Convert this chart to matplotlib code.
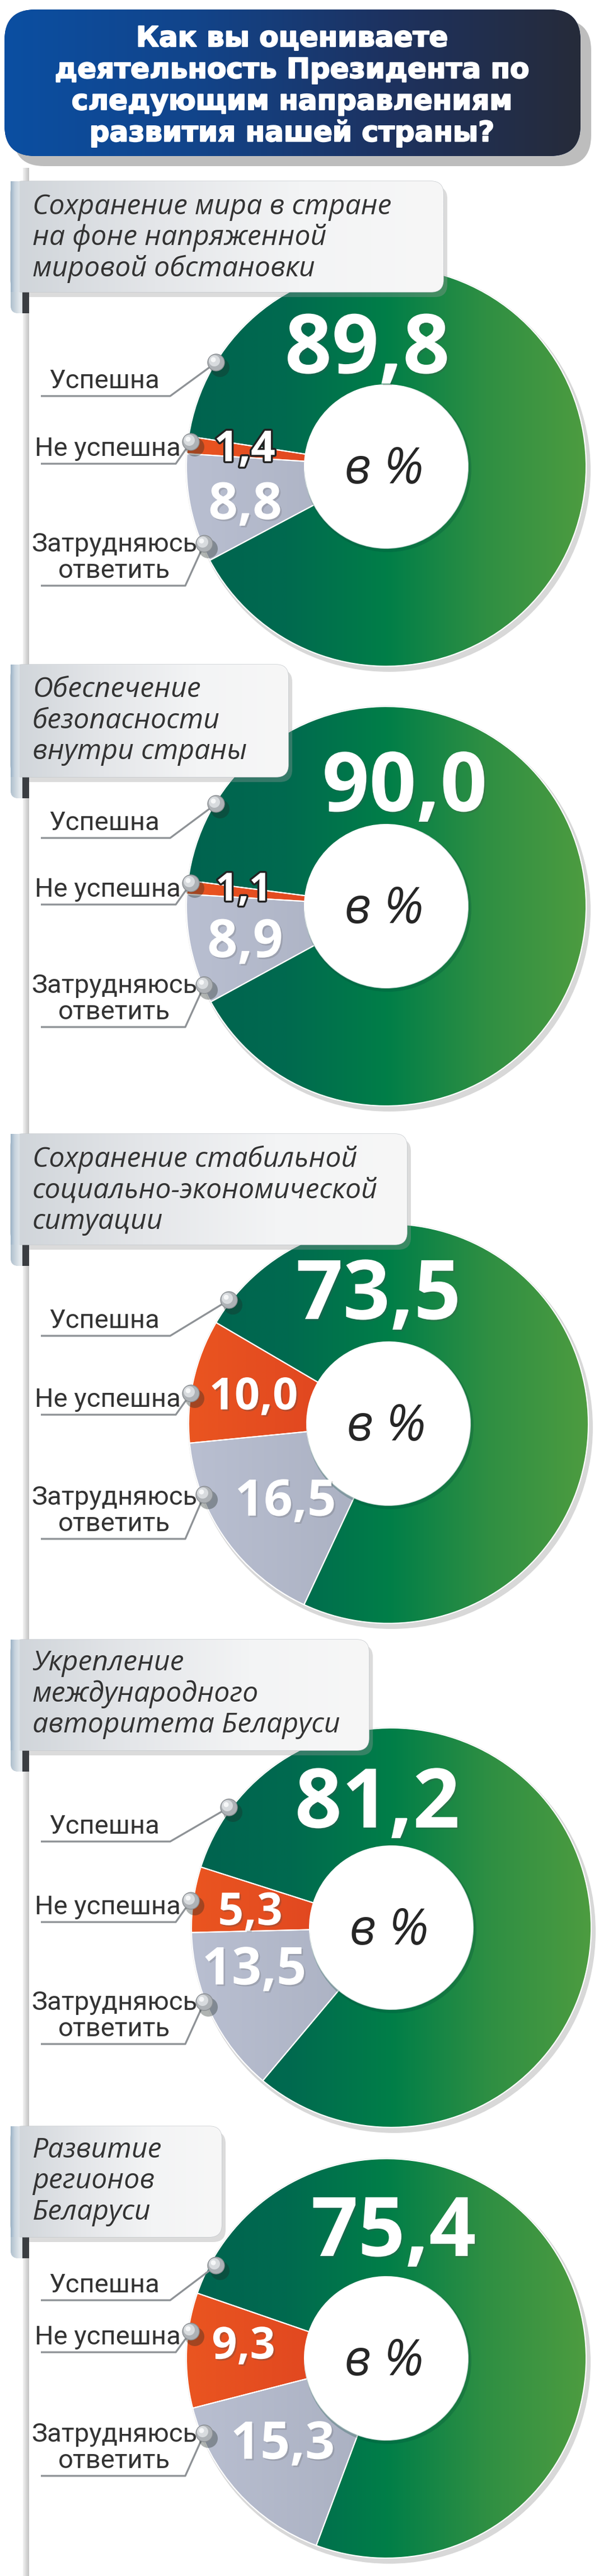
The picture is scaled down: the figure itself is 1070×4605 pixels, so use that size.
import numpy as np
import matplotlib
matplotlib.use("Agg")
import matplotlib.pyplot as plt
import matplotlib.patheffects as pe
from matplotlib.patches import FancyBboxPatch, Circle, Rectangle
from matplotlib.colors import to_rgb

W, H = 1070, 4605

# ---------------------------------
# Data

title_lines = ["Как вы оцениваете",
               "деятельность Президента по",
               "следующим направлениям",
               "развития нашей страны?"]

topics = ["Сохранение мира в стране\nна фоне напряженной\nмировой обстановки",
          "Обеспечение\nбезопасности\nвнутри страны",
          "Сохранение стабильной\nсоциально-экономической\nситуации",
          "Укрепление\nмеждународного\nавторитета Беларуси",
          "Развитие\nрегионов\nБеларуси"]

answers = ["Успешна", "Не успешна", "Затрудняюсь\nответить"]

success = [89.8, 90.0, 73.5, 81.2, 75.4]
fail = [1.4, 1.1, 10.0, 5.3, 9.3]
unsure = [8.8, 8.9, 16.5, 13.5, 15.3]

# ---------------------------------
# Layout in pixels, measured from the top

centers = [(690, 834), (690, 1620), (694, 2545), (699, 3446), (690, 4216)]
start_angles = [208, 208.6, 245, 230, 249.5]
boxes = [(19, 324, 792, 522), (19, 1188, 515, 1389), (19, 2027, 727, 2225),
         (19, 2931, 659, 3129), (19, 3801, 396, 3999)]
box_text_y = [365, 1228, 2068, 2968, 3839]
underlines = [(708, 829, 1047), (1498, 1617, 1836), (2388, 2529, 2751),
              (3292, 3436, 3654), (4112, 4205, 4426)]
balls = [((386, 648), (341, 790), (365, 972)),
         ((386, 1437), (341, 1579), (365, 1761)),
         ((409, 2324), (341, 2491), (365, 2672)),
         ((409, 3231), (341, 3398), (365, 3579)),
         ((386, 4050), (341, 4168), (365, 4350))]
big_pos = [(656, 614), (723, 1397), (676, 2305), (674, 3214), (703, 3980)]
red_pos = [(437, 797), (435, 1585), (453, 2491), (447, 3412), (435, 4188)]
gray_pos = [(438, 895), (438, 1677), (510, 2677), (454, 3514), (505, 4362)]
red_size = [55, 50, 57, 58, 57]
gray_size = [66, 68, 65, 67, 67]
corner_x = [304, 314, 331]
label_cx = [186, 192, 204]

R_OUT, R_IN = 357, 146

fig = plt.figure(figsize=(W / 100, H / 100), dpi=100)
ax = fig.add_axes([0, 0, 1, 1])


def Y(y):
    return H - y


def ramp(colors, n=256):
    stops = np.linspace(0, 1, len(colors))
    t = np.linspace(0, 1, n)
    rgb = np.array([to_rgb(c) for c in colors])
    return np.stack([np.interp(t, stops, rgb[:, k]) for k in range(3)], axis=-1)


def gradient(patch, colors, extent, vertical=False, z=2):
    row = ramp(colors)
    img = row[:, None, :] if vertical else row[None, :, :]
    im = ax.imshow(img, extent=extent, origin="lower", aspect="auto",
                   interpolation="bilinear", zorder=z)
    im.set_clip_path(patch)
    return im


def fmt(v):
    return f"{v:.1f}".replace(".", ",")


# ---------------------------------
# Left guide line

guide = Rectangle((41, 0), 11, Y(300), facecolor="none", edgecolor="none")
ax.add_patch(guide)
gradient(guide, ["#f2f2f2", "#dadada", "#c2c2c2"], (41, 52, 0, Y(300)), z=1)

# ---------------------------------
# Title box

ax.add_patch(FancyBboxPatch((24, Y(297)), 1032, 262, boxstyle="round,pad=0,rounding_size=55",
                            facecolor="#b2b2b2", edgecolor="none", alpha=0.85, zorder=1))
tbox = FancyBboxPatch((8, Y(279)), 1029, 262, boxstyle="round,pad=0,rounding_size=55",
                      facecolor="#173a78", edgecolor="none", zorder=2)
ax.add_patch(tbox)
gradient(tbox, ["#0b4fa2", "#12448a", "#1d3260", "#262b3a"], (8, 1037, Y(279), Y(17)), z=2.5)
for i, line in enumerate(title_lines):
    ax.text(522, Y(83 + i * 56.5), line, ha="center", va="baseline", color="white",
            fontsize=36, fontweight="bold", family="DejaVu Sans", zorder=3,
            path_effects=[pe.withStroke(linewidth=1.6, foreground="white")])

# ---------------------------------
# Five donut panels

fills = [["#00634f", "#006a4f", "#007e48", "#2f8f43", "#4d9c40"],
         ["#ea5520", "#dc4020", "#c62e1e"],
         ["#b9bfd1", "#a9afc0", "#8f95a3"]]

for k in range(5):
    cx, cy = centers[k]
    cyb = Y(cy)
    ext = (cx - R_OUT, cx + R_OUT, cyb - R_OUT, cyb + R_OUT)

    # soft rim and shadow behind the ring
    ax.add_patch(Circle((cx + 5, cyb - 7), R_OUT + 3, facecolor="#d8d8d8", edgecolor="none", zorder=1))
    ax.add_patch(Circle((cx, cyb), R_OUT + 1.5, facecolor="#e2e2e2", edgecolor="none", zorder=1.2))

    wedges, _ = ax.pie([success[k], fail[k], unsure[k]], center=(cx, cyb), radius=R_OUT,
                       startangle=start_angles[k], counterclock=True,
                       wedgeprops=dict(width=R_OUT - R_IN, edgecolor="white", linewidth=1.5))
    for w, cols in zip(wedges, fills):
        w.set_facecolor("none")
        w.set_zorder(3)
        gradient(w, cols, ext, z=2)

    # inner circle shading
    ax.add_patch(Circle((cx + 3, cyb - 4), R_IN + 3, facecolor="#004a38", edgecolor="none",
                        alpha=0.25, zorder=3.1))
    ax.add_patch(Circle((cx, cyb), R_IN, facecolor="white", edgecolor="none", zorder=3.2))
    ax.text(cx - 4, cyb - 30, "в %", ha="center", va="baseline", fontsize=64,
            style="italic", family="Open Sans", color="#262626", zorder=4)

    # value labels
    bx, by = big_pos[k]
    ax.text(bx, Y(by + 53), fmt(success[k]), ha="center", va="baseline", fontsize=106,
            fontweight="bold", family="Open Sans", color="white", zorder=6,
            path_effects=[pe.withSimplePatchShadow(offset=(2, -2), alpha=0.25)])
    rx, ry = red_pos[k]
    red_fx = [pe.withStroke(linewidth=5, foreground="#222222")] if fail[k] < 3 else \
        [pe.withSimplePatchShadow(offset=(2, -2), alpha=0.3)]
    ax.text(rx, Y(ry + red_size[k] * 0.5), fmt(fail[k]), ha="center", va="baseline",
            fontsize=red_size[k], fontweight="bold", family="Open Sans", color="white",
            zorder=6, path_effects=red_fx)
    gx, gy = gray_pos[k]
    ax.text(gx, Y(gy + gray_size[k] * 0.5), fmt(unsure[k]), ha="center", va="baseline",
            fontsize=gray_size[k], fontweight="bold", family="Open Sans", color="white",
            zorder=6, path_effects=[pe.withSimplePatchShadow(offset=(2, -2), alpha=0.2)])

    # topic box with scroll curl
    x0, y0, x1, y1 = boxes[k]
    ax.add_patch(FancyBboxPatch((x0 + 7, Y(y1 + 9)), x1 - x0, y1 - y0,
                                boxstyle="round,pad=0,rounding_size=22",
                                facecolor="#9a9a9a", edgecolor="none", alpha=0.35, zorder=7))
    curl = FancyBboxPatch((x0, Y(y1 + 38)), 33, 60, boxstyle="round,pad=0,rounding_size=14",
                          facecolor="#c9d2da", edgecolor="none", zorder=7.2)
    ax.add_patch(curl)
    gradient(curl, ["#aebfcd", "#e3e8ec", "#c0c8d0"], (x0, x0 + 33, Y(y1 + 38), Y(y1 - 22)), z=7.3)
    ax.add_patch(Rectangle((x0 + 21, Y(y1 + 38)), 12, 40, facecolor="#3a3d41",
                           edgecolor="none", zorder=7.4))
    box = FancyBboxPatch((x0, Y(y1)), x1 - x0, y1 - y0, boxstyle="round,pad=0,rounding_size=22",
                         facecolor="#e6e8ea", edgecolor="#c4c8cc", linewidth=1, zorder=8)
    ax.add_patch(box)
    gradient(box, ["#cfd4d9", "#e4e6e9", "#f3f4f5", "#f7f7f7"], (x0, x1, Y(y1), Y(y0)), z=8.1)
    band = Rectangle((x0, Y(y1)), 16, y1 - y0, facecolor="none", edgecolor="none")
    ax.add_patch(band)
    band.set_clip_path(box)
    gradient(band, ["#9bb2c6", "#c9d5df", "#dde3e8"], (x0, x0 + 16, Y(y1), Y(y0)), z=8.2)
    for i, line in enumerate(topics[k].split("\n")):
        ax.text(58, Y(box_text_y[k] + 18 + i * 55.5), line, ha="left", va="baseline",
                fontsize=36, style="italic", family="Open Sans", color="#333333", zorder=9)

    # answer labels with leader lines and balls
    for j in range(3):
        uy = underlines[k][j]
        (px, py) = balls[k][j]
        ax.plot([73, corner_x[j], px], [Y(uy), Y(uy), Y(py)], color="#8e9296",
                linewidth=2.4, solid_capstyle="butt", zorder=5)
        ax.add_patch(Circle((px + 7, Y(py + 9)), 17, facecolor="#1e2a24", edgecolor="none",
                            alpha=0.35, zorder=5.1))
        ax.add_patch(Circle((px, Y(py)), 15, facecolor="#aeb2b6", edgecolor="#8a8e92",
                            linewidth=1, zorder=5.2))
        ax.add_patch(Circle((px - 3, Y(py - 3)), 10, facecolor="#d8dbde", edgecolor="none", zorder=5.3))
        ax.add_patch(Circle((px - 5, Y(py - 5)), 4.5, facecolor="#f6f7f8", edgecolor="none", zorder=5.4))
        lines = answers[j].split("\n")
        for i, txt in enumerate(lines):
            base = uy - 14 - (len(lines) - 1 - i) * 47
            ax.text(label_cx[j], Y(base), txt, ha="center", va="baseline", fontsize=34,
                    family="Roboto", color="#333333", zorder=5)

ax.set_xlim(0, W)
ax.set_ylim(0, H)
ax.set_aspect("auto")
ax.axis("off")
fig.savefig("out.png", dpi=100, facecolor="white")
